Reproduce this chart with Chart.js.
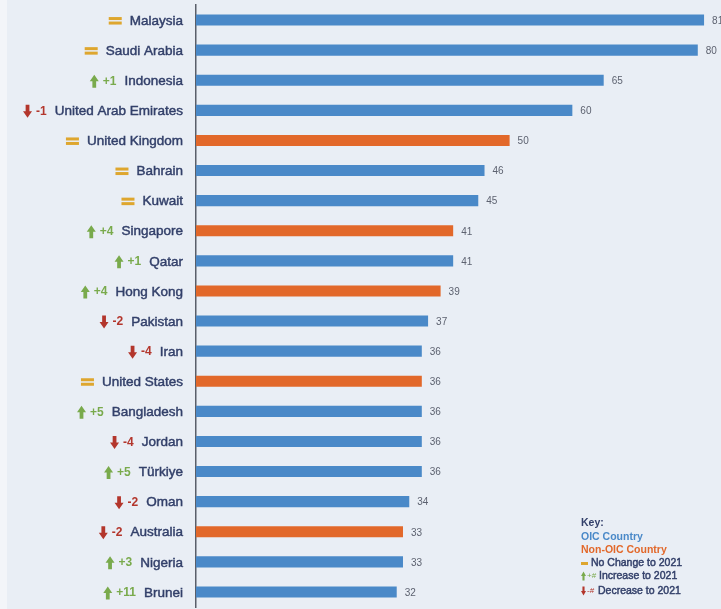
<!DOCTYPE html>
<html>
<head>
<meta charset="utf-8">
<script src="https://cdn.jsdelivr.net/npm/chart.js@4.4.1/dist/chart.umd.min.js"></script>
<style>
	html, body { margin: 0; padding: 0; background: #ffffff; }
	#wrap { width: 721px; height: 609px; position: relative; }
</style>
</head>
<body>
<div id="wrap"><canvas id="rank-chart" width="721" height="609"></canvas></div>
<script>
var countries = ['Malaysia', 'Saudi Arabia', 'Indonesia', 'United Arab Emirates', 'United Kingdom',
	'Bahrain', 'Kuwait', 'Singapore', 'Qatar', 'Hong Kong', 'Pakistan', 'Iran', 'United States',
	'Bangladesh', 'Jordan', 'Türkiye', 'Oman', 'Australia', 'Nigeria', 'Brunei'];
var scores = [81, 80, 65, 60, 50, 46, 45, 41, 41, 39, 37, 36, 36, 36, 36, 36, 34, 33, 33, 32];
// 1 = OIC member, 0 = non-OIC
var oicMember = [1, 1, 1, 1, 0, 1, 1, 0, 1, 0, 1, 1, 0, 1, 1, 1, 1, 0, 1, 1];
// rank movement against 2021
var rankChange = [0, 0, 1, -1, 0, 0, 0, 4, 1, 4, -2, -4, 0, 5, -4, 5, -2, -2, 3, 11];

var BLUE = '#4a89c8',
	ORANGE = '#e2682a',
	NAVY = '#33406a',
	GREEN = '#79aa4c',
	RED = '#b3362c',
	GOLD = '#dea62e';

function drawArrow(ctx, x, y, w, h, up, color) {
	// x = left, y = vertical centre
	var head = h * 0.5, shaft = w * 0.42;
	ctx.fillStyle = color;
	ctx.beginPath();
	if (up) {
		var top = y - h / 2;
		ctx.moveTo(x + w / 2, top);
		ctx.lineTo(x + w, top + head);
		ctx.lineTo(x + w / 2 + shaft / 2, top + head);
		ctx.lineTo(x + w / 2 + shaft / 2, top + h);
		ctx.lineTo(x + w / 2 - shaft / 2, top + h);
		ctx.lineTo(x + w / 2 - shaft / 2, top + head);
		ctx.lineTo(x, top + head);
	} else {
		var bot = y + h / 2;
		ctx.moveTo(x + w / 2, bot);
		ctx.lineTo(x + w, bot - head);
		ctx.lineTo(x + w / 2 + shaft / 2, bot - head);
		ctx.lineTo(x + w / 2 + shaft / 2, bot - h);
		ctx.lineTo(x + w / 2 - shaft / 2, bot - h);
		ctx.lineTo(x + w / 2 - shaft / 2, bot - head);
		ctx.lineTo(x, bot - head);
	}
	ctx.closePath();
	ctx.fill();
}

// text with a hairline stroke, to get a medium weight
function heavyText(ctx, str, x, y, color) {
	ctx.fillStyle = color;
	ctx.strokeStyle = color;
	ctx.lineWidth = 0.45;
	ctx.fillText(str, x, y);
	ctx.strokeText(str, x, y);
}

var background = {
	id: 'background',
	beforeDraw: function(chart) {
		var ctx = chart.ctx;
		ctx.save();
		ctx.fillStyle = '#e9eef5';
		ctx.fillRect(0, 0, chart.width, chart.height);
		ctx.fillStyle = '#f3f5f9';
		ctx.fillRect(0, 0, 7, chart.height);
		ctx.restore();
	}
};

var rowLabels = {
	id: 'rowLabels',
	afterDraw: function(chart) {
		var ctx = chart.ctx,
			yScale = chart.scales.y,
			right = chart.chartArea.left - 13;
		ctx.save();
		ctx.textBaseline = 'middle';
		for (var i = 0; i < countries.length; i++) {
			var y = yScale.getPixelForValue(i) + 1;
			ctx.font = '13.5px "Liberation Sans", Arial, sans-serif';
			ctx.textAlign = 'right';
			heavyText(ctx, countries[i], right, y, NAVY);
			var nameLeft = right - ctx.measureText(countries[i]).width - 8;
			if (rankChange[i] === 0) {
				ctx.fillStyle = GOLD;
				ctx.fillRect(nameLeft - 13, y - 4, 13, 3);
				ctx.fillRect(nameLeft - 13, y + 0.5, 13, 3);
			} else {
				var up = rankChange[i] > 0,
					txt = (up ? '+' : '-') + Math.abs(rankChange[i]);
				ctx.font = 'bold 12px "Liberation Sans", Arial, sans-serif';
				ctx.fillStyle = up ? GREEN : RED;
				ctx.fillText(txt, nameLeft, y);
				var txtLeft = nameLeft - ctx.measureText(txt).width - 4;
				drawArrow(ctx, txtLeft - 9, y, 9, 13, up, up ? GREEN : RED);
			}
		}
		ctx.restore();
	}
};

var valueLabels = {
	id: 'valueLabels',
	afterDatasetsDraw: function(chart) {
		var ctx = chart.ctx,
			meta = chart.getDatasetMeta(0);
		ctx.save();
		ctx.font = '10px "Liberation Sans", Arial, sans-serif';
		ctx.fillStyle = '#5d6270';
		ctx.textAlign = 'left';
		ctx.textBaseline = 'middle';
		meta.data.forEach(function(bar, i) {
			ctx.fillText(scores[i], bar.x + 8, bar.y + 1);
		});
		ctx.restore();
	}
};

var keyBox = {
	id: 'keyBox',
	afterDraw: function(chart) {
		var ctx = chart.ctx, x = 581;
		ctx.save();
		ctx.textAlign = 'left';
		ctx.textBaseline = 'middle';
		ctx.font = 'bold 10.5px "Liberation Sans", Arial, sans-serif';
		ctx.fillStyle = NAVY;
		ctx.fillText('Key:', x, 523);
		ctx.fillStyle = BLUE;
		ctx.fillText('OIC Country', x, 537);
		ctx.fillStyle = ORANGE;
		ctx.fillText('Non-OIC Country', x, 550);
		ctx.font = '10.5px "Liberation Sans", Arial, sans-serif';
		ctx.fillStyle = GOLD;
		ctx.fillRect(x, 562, 7, 3);
		heavyText(ctx, 'No Change to 2021', x + 10, 563, NAVY);
		drawArrow(ctx, x, 576, 5, 9, true, GREEN);
		ctx.font = '8px "Liberation Sans", Arial, sans-serif';
		ctx.fillStyle = GREEN;
		ctx.fillText('+#', x + 6, 576);
		ctx.font = '10.5px "Liberation Sans", Arial, sans-serif';
		heavyText(ctx, 'Increase to 2021', x + 18, 576, NAVY);
		drawArrow(ctx, x, 591, 5, 9, false, RED);
		ctx.font = '8px "Liberation Sans", Arial, sans-serif';
		ctx.fillStyle = RED;
		ctx.fillText('-#', x + 6, 591);
		ctx.font = '10.5px "Liberation Sans", Arial, sans-serif';
		heavyText(ctx, 'Decrease to 2021', x + 17, 591, NAVY);
		ctx.restore();
	}
};

var ctx = document.getElementById('rank-chart').getContext('2d');
var rankChart = new Chart(ctx, {
	type: 'bar',
	data: {
		labels: countries,
		datasets: [{
			data: scores,
			backgroundColor: oicMember.map(function(m) { return m ? BLUE : ORANGE; }),
			borderWidth: 0,
			categoryPercentage: 1,
			barPercentage: 0.37
		}]
	},
	options: {
		indexAxis: 'y',
		responsive: false,
		animation: false,
		layout: { padding: { top: 5, bottom: 2, left: 0, right: 0 } },
		plugins: {
			legend: { display: false },
			tooltip: { enabled: false }
		},
		scales: {
			x: { display: false, min: 0, max: 83.7 },
			y: {
				afterFit: function(axis) { axis.width = 196; },
				ticks: { display: false },
				grid: { display: false, drawTicks: false },
				border: { display: true, color: '#5a5f6a', width: 1.5 }
			}
		}
	},
	plugins: [background, rowLabels, valueLabels, keyBox]
});
</script>
</body>
</html>
